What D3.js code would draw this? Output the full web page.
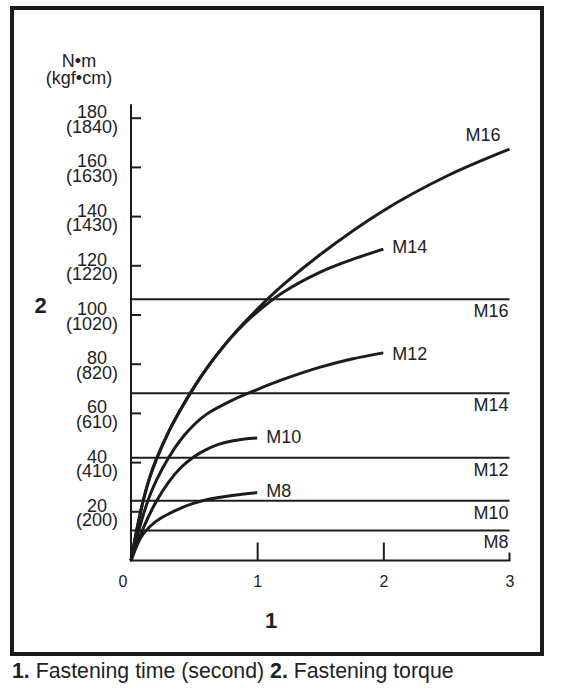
<!DOCTYPE html>
<html><head><meta charset="utf-8">
<script src="https://cdn.jsdelivr.net/npm/d3@7"></script>
<style>
html,body{margin:0;padding:0;background:#fff;}
svg text{font-family:"Liberation Sans",Arial,sans-serif;fill:#222;}
</style></head>
<body><svg id="c" width="561" height="694"></svg>
<script>
// ---- data ----
const timeTicks = [0, 1, 2, 3];
const torqueTicks = [20, 40, 60, 80, 100, 120, 140, 160, 180];
const kgfLabels = ["(200)", "(410)", "(610)", "(820)", "(1020)", "(1220)", "(1430)", "(1630)", "(1840)"];

const m16Time = [0, 0.05, 0.1, 0.15, 0.2, 0.3, 0.4, 0.5, 0.6, 0.7, 0.8, 0.9, 1.0, 1.2, 1.5, 2.0, 2.5, 3.0];
const m16Torque = [0, 13.5, 25, 34, 41, 52.5, 62, 70.5, 78.1, 84.9, 91.1, 96.8, 102.1, 111.8, 124.4, 142.2, 156.2, 167.2];
const m14Time = [0, 0.05, 0.1, 0.15, 0.2, 0.3, 0.4, 0.5, 0.6, 0.7, 0.8, 0.9, 1.0, 1.2, 1.5, 1.75, 2.0];
const m14Torque = [0, 13.5, 25, 34, 41, 52.5, 62, 70.5, 78.1, 84.9, 91.1, 96.4, 101, 108.8, 117.2, 122.3, 126.6];
const m12Time = [0, 0.05, 0.1, 0.15, 0.2, 0.3, 0.4, 0.5, 0.6, 0.8, 1.0, 1.2, 1.5, 1.75, 2.0];
const m12Torque = [0, 10, 19, 26.5, 32.5, 42, 49.5, 55.2, 59.5, 65.1, 69.5, 73.5, 78.6, 81.9, 84.4];
const m10Time = [0, 0.1, 0.2, 0.3, 0.4, 0.5, 0.6, 0.7, 0.8, 0.9, 1.0];
const m10Torque = [0, 13.5, 24, 32, 38, 42.2, 45.2, 47.3, 48.6, 49.4, 49.8];
const m8Time = [0, 0.05, 0.1, 0.2, 0.3, 0.4, 0.5, 0.6, 0.8, 1.0];
const m8Torque = [0, 6.5, 11, 16, 19, 21.4, 23.3, 24.7, 26.4, 27.6];

const seriesNames = ["M16", "M14", "M12", "M10", "M8"];
const limitNames = ["M16", "M14", "M12", "M10", "M8"];
const limitTorque = [106.2, 68, 41.8, 24.3, 12.2];

const xTitle = "1";
const yTitle = "2";
const unitTop = "N\u2022m";
const unitBottom = "(kgf\u2022cm)";

// ---- drawing ----
const svg = d3.select("#c");
const x = d3.scaleLinear().domain([0, 3]).range([131, 509.5]);
const y = d3.scaleLinear().domain([0, 180]).range([560.5, 117.7]);
const ink = "#1c1c1c";

// frame
svg.append("rect").attr("x", 12).attr("y", 8).attr("width", 530).attr("height", 646)
  .attr("fill", "none").attr("stroke", ink).attr("stroke-width", 4);

// limit lines
limitTorque.forEach((v, i) => {
  svg.append("line").attr("x1", x(0)).attr("x2", x(3)).attr("y1", y(v)).attr("y2", y(v))
    .attr("stroke", ink).attr("stroke-width", 2);
  svg.append("text").attr("x", x(3) - 1).attr("y", y(v) + 18)
    .attr("text-anchor", "end").attr("font-size", 18).text(limitNames[i]);
});

// y axis
const yAxis = d3.axisLeft(y).tickValues(torqueTicks).tickSizeInner(-10).tickSizeOuter(0).tickFormat("");
const gy = svg.append("g").attr("transform", `translate(${x(0)},0)`).call(yAxis);
gy.select(".domain").remove();
gy.selectAll(".tick line").attr("stroke", ink).attr("stroke-width", 2);
svg.append("line").attr("x1", x(0)).attr("x2", x(0)).attr("y1", y(185.5)).attr("y2", y(0) + 1)
  .attr("stroke", ink).attr("stroke-width", 2);

// y tick labels (two lines)
torqueTicks.forEach((v, i) => {
  const b = svg.append("text").attr("x", 118).attr("y", y(v) + 15)
    .attr("text-anchor", "end").attr("font-size", 18).text(kgfLabels[i]);
  const w = b.node().getComputedTextLength();
  svg.append("text").attr("x", 118 - w / 2).attr("y", y(v) + 0.5)
    .attr("text-anchor", "middle").attr("font-size", 18).text(v);
});

// x axis
svg.append("line").attr("x1", x(0) - 1).attr("x2", x(3) + 1).attr("y1", y(0)).attr("y2", y(0))
  .attr("stroke", ink).attr("stroke-width", 2);
const xAxis = d3.axisBottom(x).tickValues([1, 2]).tickSizeInner(-18).tickSizeOuter(0).tickFormat("");
const gx = svg.append("g").attr("transform", `translate(0,${y(0)})`).call(xAxis);
gx.select(".domain").remove();
gx.selectAll(".tick line").attr("stroke", ink).attr("stroke-width", 2);
svg.append("line").attr("x1", x(3)).attr("x2", x(3)).attr("y1", y(0)).attr("y2", y(0) - 8)
  .attr("stroke", ink).attr("stroke-width", 2);
timeTicks.forEach(t => {
  svg.append("text").attr("x", t === 0 ? x(t) - 8 : x(t) + 0.5).attr("y", 587)
    .attr("text-anchor", "middle").attr("font-size", 16).text(t);
});

// curves
const line = d3.line().x(d => x(d[0])).y(d => y(d[1])).curve(d3.curveCatmullRom.alpha(0.5));
const seriesData = [
  d3.zip(m16Time, m16Torque), d3.zip(m14Time, m14Torque), d3.zip(m12Time, m12Torque),
  d3.zip(m10Time, m10Torque), d3.zip(m8Time, m8Torque)
];
seriesData.forEach(d => {
  svg.append("path").attr("d", line(d)).attr("fill", "none")
    .attr("stroke", ink).attr("stroke-width", 3).attr("stroke-linecap", "butt");
});
// series labels
const labelPos = [
  {dx: -44, dy: -8}, {dx: 9, dy: 4}, {dx: 9, dy: 7}, {dx: 9, dy: 5}, {dx: 9, dy: 4}
];
seriesData.forEach((d, i) => {
  const last = d[d.length - 1];
  svg.append("text").attr("x", x(last[0]) + labelPos[i].dx).attr("y", y(last[1]) + labelPos[i].dy)
    .attr("font-size", 18).text(seriesNames[i]);
});

// units
svg.append("text").attr("x", 79).attr("y", 67).attr("text-anchor", "middle").attr("font-size", 18).text(unitTop);
svg.append("text").attr("x", 79).attr("y", 84).attr("text-anchor", "middle").attr("font-size", 18).text(unitBottom);

// axis titles
svg.append("text").attr("x", 40.7).attr("y", 313.3).attr("text-anchor", "middle")
  .attr("font-size", 22).attr("font-weight", "bold").text(yTitle);
svg.append("text").attr("x", 271).attr("y", 628).attr("text-anchor", "middle")
  .attr("font-size", 22).attr("font-weight", "bold").text(xTitle);

// footer
const f = svg.append("text").attr("x", 12).attr("y", 677.5).attr("font-size", 21.3);
f.append("tspan").attr("font-weight", "bold").text("1.");
f.append("tspan").text(" Fastening time (second) ");
f.append("tspan").attr("font-weight", "bold").text("2.");
f.append("tspan").text(" Fastening torque");
</script></body></html>
